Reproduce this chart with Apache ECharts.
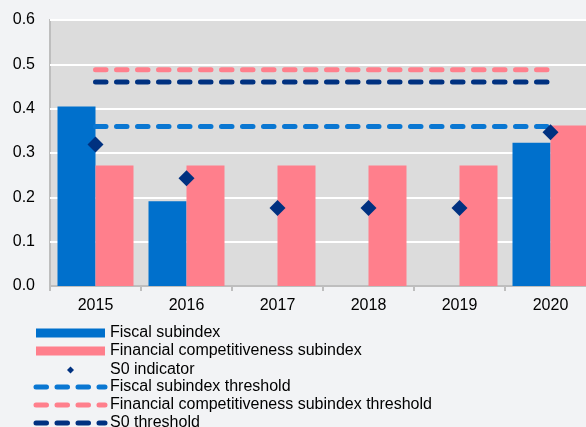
<!DOCTYPE html>
<html>
<head>
<meta charset="utf-8">
<script src="https://cdn.jsdelivr.net/npm/echarts@6/dist/echarts.min.js"></script>
<style>
html,body{margin:0;padding:0;background:#f2f3f5;}
#chart{width:586px;height:427px;}
</style>
</head>
<body>
<div id="chart"></div>
<script>
var categories = ['2015','2016','2017','2018','2019','2020'];
var fiscalSubindex = [0.405, 0.191, null, null, null, 0.323];
var financialSubindex = [0.272, 0.272, 0.272, 0.272, 0.272, 0.362];
var s0Indicator = [0.319, 0.243, 0.176, 0.176, 0.176, 0.347];
var fiscalThreshold = [0.36, 0.36, 0.36, 0.36, 0.36, 0.36];
var financialThreshold = [0.488, 0.488, 0.488, 0.488, 0.488, 0.488];
var s0Threshold = [0.46, 0.46, 0.46, 0.46, 0.46, 0.46];
var yTicks = [0, 0.1, 0.2, 0.3, 0.4, 0.5, 0.6];

var FONT = 'Liberation Sans, Arial, sans-serif';
var C_FISCAL = '#0070cc';
var C_FIN = '#ff7f8c';
var C_NAVY = '#003180';
var C_LBLUE = '#0a77d2';

var names = ['Fiscal subindex','Financial competitiveness subindex','S0 indicator',
  'Fiscal subindex threshold','Financial competitiveness subindex threshold','S0 threshold'];

var DASH = [10.5, 10.5];

function legendRow(name, idx, kind, color) {
  var l = {
    data: [name], left: 36, top: 325 + idx * 18, orient: 'vertical', padding: 0,
    itemWidth: 69, itemHeight: 9, itemGap: 0, selectedMode: false,
    symbolKeepAspect: true,
    textStyle: {fontFamily: FONT, fontSize: 16, color: '#000'}
  };
  if (kind === 'bar') {
    l.icon = 'rect';
  } else if (kind === 'diamond') {
    l.icon = 'path://M5,0L10,5L5,10L0,5Z';
    l.itemHeight = 7;
    l.left = 67;
    l.top = 326 + idx * 18;
  } else {
    l.left = 33.5;
    l.itemStyle = {opacity: 0};
    l.lineStyle = {color: color, width: 5, type: DASH, cap: 'round', opacity: 1};
  }
  return l;
}

var chart = echarts.init(document.getElementById('chart'), null, {renderer: 'canvas'});
function dash(color) { return {color: color, type: DASH, width: 5, cap: 'round'}; }
chart.setOption({
  backgroundColor: '#f2f3f5',
  animation: false,
  grid: {left: 50, right: -10, top: 20, bottom: 141, show: true, outerBoundsMode: 'none',
    containLabel: false,
    backgroundColor: '#dcdcdc', borderColor: '#bebebe', borderWidth: 2},
  legend: [
    legendRow(names[0], 0, 'bar'),
    legendRow(names[1], 1, 'bar'),
    legendRow(names[2], 2, 'diamond'),
    legendRow(names[3], 3, 'line', C_LBLUE),
    legendRow(names[4], 4, 'line', C_FIN),
    legendRow(names[5], 5, 'line', C_NAVY)
  ],
  xAxis: {
    type: 'category', data: categories,
    axisLine: {show: true, lineStyle: {color: '#bebebe', width: 2}},
    axisTick: {show: true, length: 5, lineStyle: {color: '#bebebe', width: 2}},
    axisLabel: {fontFamily: FONT, fontSize: 16, color: '#000', margin: 12}
  },
  yAxis: {
    type: 'value', min: 0, max: 0.6, interval: 0.1,
    axisLine: {show: false}, axisTick: {show: false},
    axisLabel: {fontFamily: FONT, fontSize: 16, color: '#000', margin: 15,
      formatter: function (v) { return v.toFixed(1); }},
    splitLine: {show: true, lineStyle: {color: '#ffffff', width: 2}}
  },
  series: [
    {name: names[0], type: 'bar', data: fiscalSubindex, barWidth: 38, barGap: '0%',
      itemStyle: {color: C_FISCAL}, z: 2},
    {name: names[1], type: 'bar', data: financialSubindex, barWidth: 38, barGap: '0%',
      itemStyle: {color: C_FIN}, z: 2},
    {name: names[2], type: 'scatter', data: s0Indicator, symbol: 'diamond', symbolSize: 16,
      itemStyle: {color: C_NAVY, opacity: 1}, z: 5},
    {name: names[3], type: 'line', data: fiscalThreshold, symbol: 'none',
      lineStyle: dash(C_LBLUE), itemStyle: {color: C_LBLUE}, z: 3},
    {name: names[4], type: 'line', data: financialThreshold, symbol: 'none',
      lineStyle: dash(C_FIN), itemStyle: {color: C_FIN}, z: 3},
    {name: names[5], type: 'line', data: s0Threshold, symbol: 'none',
      lineStyle: dash(C_NAVY), itemStyle: {color: C_NAVY}, z: 3}
  ]
});
</script>
</body>
</html>
